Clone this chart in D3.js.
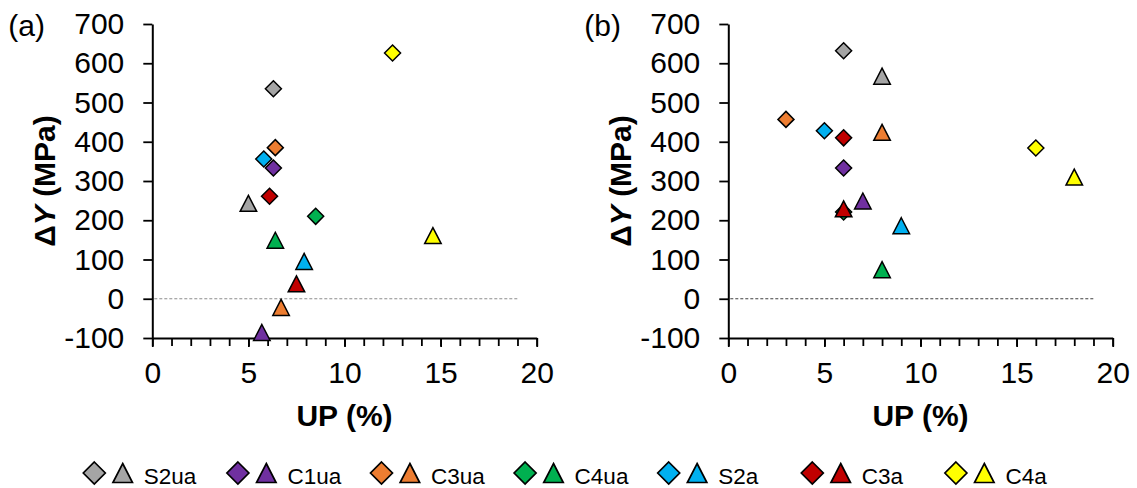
<!DOCTYPE html>
<html>
<head>
<meta charset="utf-8">
<script src="https://cdn.jsdelivr.net/npm/d3@7"></script>
<style>
  html, body { margin: 0; padding: 0; background: #fff; }
  svg { display: block; font-family: "Liberation Sans", Arial, sans-serif; }
</style>
</head>
<body>
<svg id="chart" width="1137" height="488"></svg>
<script>
// ---------- data ----------
const seriesNames = ["S2ua", "C1ua", "C3ua", "C4ua", "S2a", "C3a", "C4a"];
const seriesColors = ["#A5A5A5", "#7030A0", "#ED7D31", "#00B050", "#00B0F0", "#C00000", "#FFFF00"];

// Panel (a)
const aDiamondX = [6.3, 6.3, 6.4, 8.5, 5.8, 6.1, 12.5];
const aDiamondY = [535, 333, 385, 210, 356, 261, 626];
const aTriangleX = [5.0, 5.7, 6.7, 6.4, 7.9, 7.5, 14.6];
const aTriangleY = [243, -86, -22, 149, 95, 38, 161];

// Panel (b)
const bDiamondX = [6, 6, 3, 6, 5, 6, 16];
const bDiamondY = [632, 333, 457, 221, 428, 410, 384];
const bTriangleX = [8, 7, 8, 8, 9, 6, 18];
const bTriangleY = [567, 249, 424, 74, 186, 229, 310];

const xTicks = [0, 5, 10, 15, 20];
const xTickLabels = ["0", "5", "10", "15", "20"];
const xMinorTicks = d3.range(0, 21, 1);
const yTicks = [-100, 0, 100, 200, 300, 400, 500, 600, 700];
const yTickLabels = ["-100", "0", "100", "200", "300", "400", "500", "600", "700"];
const xDomain = [0, 20];
const yDomain = [-100, 700];
const refLineX = [0, 19];
const refLineY = 0;
const panelLabels = ["(a)", "(b)"];
const drawOrder = [4, 0, 1, 2, 3, 5, 6];

// ---------- drawing ----------
const svg = d3.select("#chart");
const FONT = 30;

function diamondPath(r) { return `M0,${-r}L${r},0L0,${r}L${-r},0Z`; }
function trianglePath(w, h) { return `M0,${-h/2}L${w/2},${h/2}L${-w/2},${h/2}Z`; }

const panels = [
  { label: panelLabels[0], x0: 152.3, dx: aDiamondX, dy: aDiamondY, tx: aTriangleX, ty: aTriangleY, refColor: "#8c8c8c" },
  { label: panelLabels[1], x0: 728.3, dx: bDiamondX, dy: bDiamondY, tx: bTriangleX, ty: bTriangleY, refColor: "#404040" }
];

panels.forEach(p => {
  const x = d3.scaleLinear().domain(xDomain).range([p.x0, p.x0 + 384.4]);
  const y = d3.scaleLinear().domain(yDomain).range([338, 24]);
  const g = svg.append("g");

  // reference dashed line at 0
  g.append("line")
    .attr("x1", x(refLineX[0]) + 2).attr("x2", x(refLineX[1]))
    .attr("y1", y(refLineY)).attr("y2", y(refLineY))
    .attr("stroke", p.refColor).attr("stroke-width", 1)
    .attr("stroke-dasharray", "3,2");

  // minor x ticks
  const xMinor = g.append("g").attr("transform", `translate(0,${y(yDomain[0])})`)
    .call(d3.axisBottom(x).tickValues(xMinorTicks).tickSize(8).tickSizeOuter(0).tickFormat(""));
  xMinor.select(".domain").remove();
  xMinor.selectAll("line").attr("stroke", "#000").attr("stroke-width", 1.8);

  // x axis
  const xa = g.append("g").attr("transform", `translate(0,${y(yDomain[0])})`)
    .call(d3.axisBottom(x).tickValues(xTicks).tickSize(9).tickSizeOuter(0).tickPadding(15)
      .tickFormat((d, i) => xTickLabels[i]));
  xa.select(".domain").attr("stroke", "#000").attr("stroke-width", 2);
  xa.selectAll("line").attr("stroke", "#000").attr("stroke-width", 1.8);
  xa.selectAll("text").attr("font-size", FONT).attr("fill", "#000")
    .attr("font-family", "Liberation Sans, Arial, sans-serif");

  // y axis
  const ya = g.append("g").attr("transform", `translate(${p.x0},0)`)
    .call(d3.axisLeft(y).tickValues(yTicks).tickSize(9).tickSizeOuter(0).tickPadding(19)
      .tickFormat((d, i) => yTickLabels[i]));
  ya.select(".domain").attr("stroke", "#000").attr("stroke-width", 2);
  ya.selectAll("line").attr("stroke", "#000").attr("stroke-width", 1.8);
  ya.selectAll("text").attr("font-size", FONT).attr("fill", "#000")
    .attr("font-family", "Liberation Sans, Arial, sans-serif");

  // axis titles
  g.append("text")
    .attr("x", x(10)).attr("y", 426)
    .attr("text-anchor", "middle").attr("font-size", FONT).attr("font-weight", "bold")
    .text("UP (%)");

  const yl = g.append("text")
    .attr("transform", `translate(${p.x0 - 97.5},${y(300)}) rotate(-90)`)
    .attr("text-anchor", "middle").attr("font-size", FONT).attr("font-weight", "bold");
  yl.append("tspan").text("Δ");
  yl.append("tspan").attr("font-style", "italic").text("Y");
  yl.append("tspan").text(" (MPa)");

  // panel label
  g.append("text")
    .attr("x", p.x0 - 144).attr("y", 35.5)
    .attr("font-size", FONT).attr("fill", "#000")
    .text(p.label);

  // markers
  const marks = g.append("g");
  drawOrder.forEach(i => {
    marks.append("path")
      .attr("d", diamondPath(8))
      .attr("transform", `translate(${x(p.dx[i])},${y(p.dy[i])})`)
      .attr("fill", seriesColors[i]).attr("stroke", "#000").attr("stroke-width", 1.5);
  });
  drawOrder.forEach(i => {
    marks.append("path")
      .attr("d", trianglePath(16.5, 16))
      .attr("transform", `translate(${x(p.tx[i])},${y(p.ty[i])})`)
      .attr("fill", seriesColors[i]).attr("stroke", "#000").attr("stroke-width", 1.5)
      .attr("stroke-linejoin", "miter");
  });
});

// ---------- legend ----------
const legend = svg.append("g");
seriesNames.forEach((name, i) => {
  const cx = 94.3 + i * 143.6;
  const item = legend.append("g").attr("transform", `translate(${cx},473)`);
  item.append("path").attr("d", diamondPath(11))
    .attr("fill", seriesColors[i]).attr("stroke", "#000").attr("stroke-width", 1.7);
  item.append("path").attr("d", trianglePath(19.5, 19))
    .attr("transform", "translate(28.4,0)")
    .attr("fill", seriesColors[i]).attr("stroke", "#000").attr("stroke-width", 1.7);
  item.append("text").attr("x", 49.5).attr("y", 11)
    .attr("font-size", 22.5).attr("fill", "#000")
    .text(name);
});
</script>
</body>
</html>
